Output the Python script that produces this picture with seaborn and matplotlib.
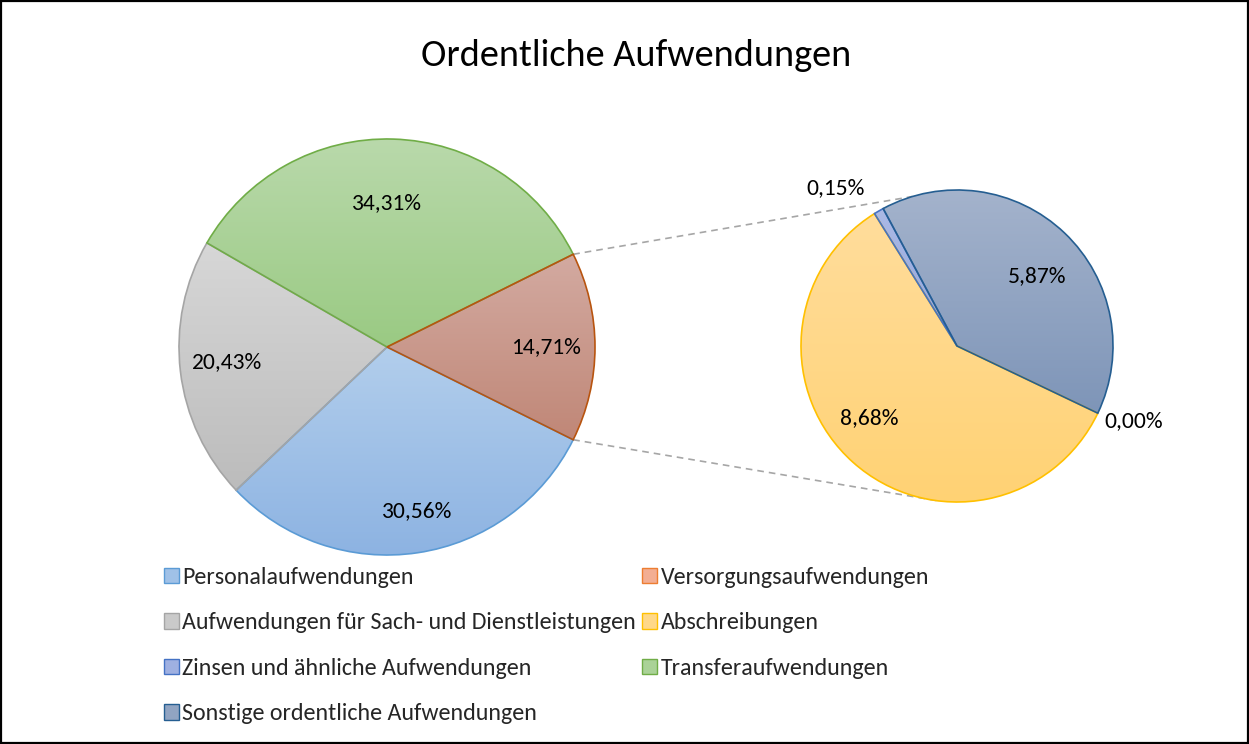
import numpy as np
import matplotlib
matplotlib.use("Agg")
import matplotlib.pyplot as plt
import matplotlib.colors as mcolors
from matplotlib.patches import Patch, Rectangle
from matplotlib.lines import Line2D
import seaborn as sns

# ---- data -------------------------------------------------------------
categories = [
    "Personalaufwendungen",
    "Versorgungsaufwendungen",
    "Aufwendungen für Sach- und Dienstleistungen",
    "Abschreibungen",
    "Zinsen und ähnliche Aufwendungen",
    "Transferaufwendungen",
    "Sonstige ordentliche Aufwendungen",
]
shares = [30.56, 0.00, 20.43, 8.68, 0.15, 34.31, 5.87]   # percent
other_share = 14.71                                        # combined "rest" slice
title = "Ordentliche Aufwendungen"

# main pie (counter-clockwise from the split slice) and secondary pie
main_keys = ["other", "Transferaufwendungen",
             "Aufwendungen für Sach- und Dienstleistungen", "Personalaufwendungen"]
sec_keys = ["Versorgungsaufwendungen", "Sonstige ordentliche Aufwendungen",
            "Zinsen und ähnliche Aufwendungen", "Abschreibungen"]

share_of = dict(zip(categories, shares))
share_of["other"] = other_share
main_vals = [share_of[k] for k in main_keys]
sec_vals = [share_of[k] for k in sec_keys]

# ---- style ------------------------------------------------------------
sns.set_theme(style="white")
FAMILY = ["Carlito", "Lato", "DejaVu Sans"]
plt.rcParams["font.family"] = FAMILY

# (top colour, bottom colour, edge colour)
style = {
    "Personalaufwendungen": ("#b2ceec", "#8db3e2", "#5b9bd5"),
    "Versorgungsaufwendungen": ("#f6bba4", "#f1a182", "#ed7d31"),
    "Aufwendungen für Sach- und Dienstleistungen": ("#d7d7d7", "#bcbcbc", "#a5a5a5"),
    "Abschreibungen": ("#ffdd9c", "#ffd274", "#ffc000"),
    "Zinsen und ähnliche Aufwendungen": ("#abb9e5", "#92a6dc", "#4472c4"),
    "Transferaufwendungen": ("#b9d9ab", "#9aca83", "#70ad47"),
    "Sonstige ordentliche Aufwendungen": ("#a4b3cc", "#7e95b8", "#255e91"),
    "other": ("#d3aaa1", "#c08777", "#b8540f"),
}

W, H, DPI = 1249, 744, 100
fig = plt.figure(figsize=(W / DPI, H / DPI), dpi=DPI)
fig.patch.set_facecolor("white")
ax = fig.add_axes([0, 0, 1, 1])
ax.set_xlim(0, W)
ax.set_ylim(0, H)
ax.set_aspect("equal")
ax.axis("off")

renderer = fig.canvas.get_renderer()


def fitted_size(text, target_px, ref=20):
    t = fig.text(0, 0, text, fontsize=ref)
    w = t.get_window_extent(renderer).width
    t.remove()
    return ref * target_px / w


title_fs = fitted_size(title, 430)
label_fs = fitted_size("34,31%", 70)
legend_fs = fitted_size("Aufwendungen für Sach- und Dienstleistungen", 452)


def fmt(v):
    return f"{v:.2f}".replace(".", ",") + "%"


def gradient_fill(wedge, top, bottom):
    path = wedge.get_path()
    bb = path.get_extents()
    if bb.width <= 0 or bb.height <= 0:
        return
    c0 = np.array(mcolors.to_rgb(top))
    c1 = np.array(mcolors.to_rgb(bottom))
    t = np.linspace(0, 1, 256)[:, None, None]
    img = c0 * (1 - t) + c1 * t
    im = ax.imshow(img, extent=(bb.x0, bb.x1, bb.y0, bb.y1), origin="upper",
                   aspect="auto", zorder=2, interpolation="bilinear")
    im.set_clip_path(wedge)
    wedge.set_facecolor("none")


def draw_pie(keys, vals, center, radius, start, lw=1.2):
    wedges, _ = ax.pie(vals, center=center, radius=radius, startangle=start,
                       counterclock=True, normalize=True,
                       wedgeprops=dict(linewidth=lw), frame=True)
    n = len(wedges)
    for i, (w, k, v) in enumerate(zip(wedges, keys, vals)):
        top, bottom, edge = style[k]
        w.set_edgecolor(edge)
        if v == 0:
            w.set_linewidth(0)          # empty slice: no outline
        # earlier slices keep their outline on top of later neighbours
        w.set_zorder(3 + (n - i) * 0.1)
        gradient_fill(w, top, bottom)
    return wedges


main_c, main_r = (387, H - 347), 208
sec_c, sec_r = (957, H - 346), 156
main_start = -other_share * 3.6 / 2
sec_start = -25.5

main_w = draw_pie(main_keys, main_vals, main_c, main_r, main_start)
sec_w = draw_pie(sec_keys, sec_vals, sec_c, sec_r, sec_start)

ax.set_xlim(0, W)
ax.set_ylim(0, H)
ax.set_aspect("equal")
ax.axis("off")

# value labels: (radius factor, angle shift in degrees)
main_lab = [(0.765, 0), (0.69, 1.8), (0.77, -1.4), (0.80, 2)]
sec_lab = [(1.23, 2.5), (0.68, -5.5), (1.28, 7.5), (0.73, -9)]


def put_labels(wedges, vals, center, radius, layout):
    for w, v, (rf, dang) in zip(wedges, vals, layout):
        a = np.deg2rad((w.theta1 + w.theta2) / 2 + dang)
        x = center[0] + rf * radius * np.cos(a)
        y = center[1] + rf * radius * np.sin(a)
        ax.text(x, y, fmt(v), ha="center", va="center", fontsize=label_fs,
                color="black", zorder=6)


put_labels(main_w, main_vals, main_c, main_r, main_lab)
put_labels(sec_w, sec_vals, sec_c, sec_r, sec_lab)

# dashed connectors from the split slice to the secondary pie
split = main_w[0]
for a_main, a_sec in [(split.theta2, 106.6), (split.theta1, -96.4)]:
    p0 = (main_c[0] + main_r * np.cos(np.deg2rad(a_main)),
          main_c[1] + main_r * np.sin(np.deg2rad(a_main)))
    p1 = (sec_c[0] + sec_r * np.cos(np.deg2rad(a_sec)),
          sec_c[1] + sec_r * np.sin(np.deg2rad(a_sec)))
    ax.add_line(Line2D([p0[0], p1[0]], [p0[1], p1[1]], color="#a6a6a6",
                       lw=1.2, linestyle=(0, (4, 3)), zorder=1))

# title
ax.text(W / 2 + 12, H - 55, title, ha="center", va="center",
        fontsize=title_fs, color="black")

# legend
handles = []
for k in categories:
    top, bottom, edge = style[k]
    mid = (np.array(mcolors.to_rgb(top)) + np.array(mcolors.to_rgb(bottom))) / 2
    handles.append(Patch(facecolor=mid, edgecolor=edge, linewidth=1.0))
order = [0, 2, 4, 6, 1, 3, 5]
leg = ax.legend([handles[i] for i in order], [categories[i] for i in order],
                ncol=2, loc="upper left", bbox_to_anchor=(164, H - 567),
                bbox_transform=ax.transData, frameon=False,
                fontsize=legend_fs, handlelength=0.62, handleheight=0.62,
                handletextpad=0.15, columnspacing=0.25, labelspacing=1.02,
                borderpad=0, borderaxespad=0)

# outer frame
fig.patches.append(Rectangle((0.0008, 0.0013), 0.9984, 0.9974,
                             transform=fig.transFigure, fill=False,
                             edgecolor="black", linewidth=1.6))

fig.savefig("out.png", dpi=DPI, facecolor="white")
